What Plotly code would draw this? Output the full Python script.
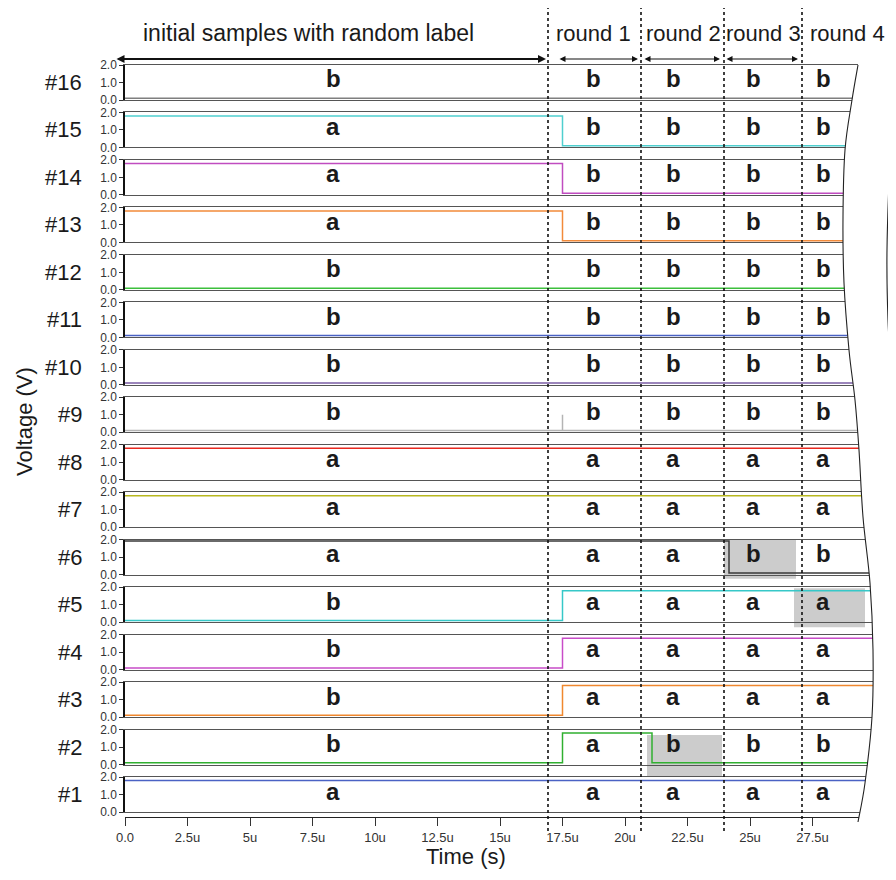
import plotly.graph_objects as go

W, H = 896, 880
OFF = 8                      # default page body margin of the html page
FW, FH = W - 2 * OFF, H - 2 * OFF
FONT = "Liberation Sans"

# ---------------- data ----------------
channels = list(range(1, 17))            # #1 (bottom) .. #16 (top)
HIGH, LOW = 1.8, 0.1
ch_colors = {
    16: "#7f7f7f", 15: "#4fcfcf", 14: "#c04cc0", 13: "#f28a3a",
    12: "#3cbf3c", 11: "#4a62c4", 10: "#7a5ca4", 9: "#b4b4b4",
    8: "#e8281e", 7: "#b8b81e", 6: "#3a3a3a", 5: "#36c8c8",
    4: "#c84cc8", 3: "#f0882e", 2: "#30b030", 1: "#4a62c4",
}
# step signals (time in microseconds, voltage in V), drawn with 'hv' steps
ch_times = {
    16: [0, 30], 15: [0, 17.5, 30], 14: [0, 17.5, 30], 13: [0, 17.5, 30],
    12: [0, 30], 11: [0, 30], 10: [0, 30], 9: [0, 17.5, 17.5, 30],
    8: [0, 30], 7: [0, 30], 6: [0, 24.16, 30], 5: [0, 17.5, 30],
    4: [0, 17.5, 30], 3: [0, 17.5, 30], 2: [0, 17.5, 21.08, 30], 1: [0, 30],
}
ch_levels = {
    16: [LOW, LOW], 15: [HIGH, LOW, LOW], 14: [HIGH, LOW, LOW], 13: [HIGH, LOW, LOW],
    12: [LOW, LOW], 11: [LOW, LOW], 10: [LOW, LOW], 9: [LOW, 1.0, LOW, LOW],
    8: [HIGH, HIGH], 7: [HIGH, HIGH], 6: [1.92, LOW, LOW], 5: [LOW, HIGH, HIGH],
    4: [LOW, HIGH, HIGH], 3: [LOW, HIGH, HIGH], 2: [LOW, HIGH, LOW, LOW], 1: [HIGH, HIGH],
}
# labels per channel: initial, round 1..4
ch_labels = {
    16: "bbbbb", 15: "abbbb", 14: "abbbb", 13: "abbbb", 12: "bbbbb",
    11: "bbbbb", 10: "bbbbb", 9: "bbbbb", 8: "aaaaa", 7: "aaaaa",
    6: "aaabb", 5: "baaaa", 4: "baaaa", 3: "baaaa", 2: "babbb", 1: "aaaaa",
}
label_x = [8.32, 18.72, 21.92, 25.12, 27.92]
round_bounds = [16.92, 20.64, 23.96, 27.08]
phase_names = ["initial samples with random label", "round 1", "round 2", "round 3", "round 4"]
phase_text_x_px = [308, 593, 683, 763, 847]
phase_font_sizes = [23, 22, 22, 22, 22]
phase_arrows = [(-0.4, 16.84), (17.32, 20.52), (20.72, 23.8), (24.0, 26.92)]
# highlighted (relabelled) cells: channel, t0, t1, v_bottom, v_top
highlights = [(6, 23.96, 26.84, -0.23, 2.0), (5, 26.76, 29.6, -0.29, 1.94),
              (2, 20.88, 23.88, -0.66, 1.69)]
xtick_vals = [0, 2.5, 5, 7.5, 10, 12.5, 15, 17.5, 20, 22.5, 25, 27.5]
xtick_text = ["0.0", "2.5u", "5u", "7.5u", "10u", "12.5u", "15u", "17.5u",
              "20u", "22.5u", "25u", "27.5u"]
ytick_vals = [0, 1, 2]
ytick_text = ["0.0", "1.0", "2.0"]

# torn-edge decoration (pixel points)
edge_px = [(858, 65), (852, 100), (845, 150), (843, 217), (844, 283), (849, 350),
           (855, 400), (859, 450), (863, 517), (870, 583), (873, 650), (872, 717),
           (865, 783), (858, 822)]
edge2_px = [(896, 88), (894, 100), (890, 160), (887, 250), (888, 320), (892, 387)]

# ---------------- layout geometry ----------------
X0_PX, X1_PX = 125, 873
XMAX = (X1_PX - X0_PX) / 25.0
TOP16, PITCH, PH = 65.0, 47.47, 35.0


def px(x):
    return (x - OFF) / FW


def py(y):
    return 1 - (y - OFF) / FH


def panel_px(ch):
    t = TOP16 + (16 - ch) * PITCH
    return t, t + PH


def v2paper(ch, v):
    t, b = panel_px(ch)
    return py(b) + v / 2.0 * (py(t) - py(b))


def smooth_path(pts, start="M"):
    # Catmull-Rom -> cubic bezier through the points
    s = f"{start} {px(pts[0][0])},{py(pts[0][1])}"
    for i in range(len(pts) - 1):
        p0 = pts[i - 1] if i > 0 else pts[i]
        p1, p2 = pts[i], pts[i + 1]
        p3 = pts[i + 2] if i + 2 < len(pts) else pts[i + 1]
        c1 = (p1[0] + (p2[0] - p0[0]) / 6, p1[1] + (p2[1] - p0[1]) / 6)
        c2 = (p2[0] - (p3[0] - p1[0]) / 6, p2[1] - (p3[1] - p1[1]) / 6)
        s += (f" C {px(c1[0])},{py(c1[1])} {px(c2[0])},{py(c2[1])}"
              f" {px(p2[0])},{py(p2[1])}")
    return s


fig = go.Figure()
layout = dict(
    width=FW, height=FH, margin=dict(l=0, r=0, t=0, b=0, autoexpand=False),
    paper_bgcolor="white", plot_bgcolor="white", showlegend=False,
    font=dict(family=FONT, color="#1a1a1a"),
)
xdom = [px(X0_PX), px(X1_PX)]
annotations, shapes = [], []

for ch in channels:
    sfx = "" if ch == 1 else str(ch)
    fig.add_trace(go.Scatter(
        x=ch_times[ch], y=ch_levels[ch], mode="lines",
        line=dict(shape="hv", color=ch_colors[ch], width=1.5),
        xaxis=f"x{sfx}", yaxis=f"y{sfx}", hoverinfo="skip"))
    t, b = panel_px(ch)
    layout[f"xaxis{sfx}"] = dict(
        domain=xdom, range=[0, XMAX], anchor=f"y{sfx}", showline=True, mirror=True,
        linecolor="#555555", linewidth=1.2, ticks="", showticklabels=False,
        showgrid=False, zeroline=False, fixedrange=True)
    layout[f"yaxis{sfx}"] = dict(
        domain=[py(b), py(t)], range=[0, 2], anchor=f"x{sfx}", showline=True,
        linecolor="#111111", linewidth=1.5, ticks="outside", ticklen=4, tickwidth=1,
        tickcolor="#333333", tickvals=ytick_vals, ticktext=ytick_text,
        tickfont=dict(size=12, color="#333333", family=FONT),
        showgrid=False, zeroline=False, fixedrange=True)
    annotations.append(dict(
        x=px(84), y=(py(t) + py(b)) / 2, xref="paper", yref="paper",
        text=f"#{ch}", showarrow=False, xanchor="right", yanchor="middle",
        font=dict(size=22, color="#1a1a1a", family=FONT)))
    for lx, lab in zip(label_x, ch_labels[ch]):
        annotations.append(dict(
            x=lx, y=1.2, xref=f"x{sfx}", yref=f"y{sfx}", text=f"<b>{lab}</b>",
            showarrow=False, xanchor="center", yanchor="middle",
            font=dict(size=24, color="#1a1a1a", family=FONT)))

# bottom time axis (slightly below panel #1)
fig.add_trace(go.Scatter(x=[0], y=[None], xaxis="x17", yaxis="y", hoverinfo="skip"))
layout["xaxis17"] = dict(
    domain=xdom, range=[0, XMAX], overlaying="x", anchor="free", position=py(817),
    side="bottom", showline=True, linecolor="#222222", linewidth=1.2,
    ticks="outside", ticklen=8, tickwidth=1, tickcolor="#333333",
    tickvals=xtick_vals, ticktext=xtick_text,
    tickfont=dict(size=13, color="#333333", family=FONT),
    showgrid=False, zeroline=False, fixedrange=True)

# highlighted cells
for ch, t0, t1, v0, v1 in highlights:
    sfx = "" if ch == 1 else str(ch)
    shapes.append(dict(type="rect", xref=f"x{sfx}", yref="paper", x0=t0, x1=t1,
                       y0=v2paper(ch, v0), y1=v2paper(ch, v1), fillcolor="#cccccc",
                       line=dict(width=0), layer="below"))

# round boundaries
for rb in round_bounds:
    shapes.append(dict(type="line", xref="x", yref="paper", x0=rb, x1=rb,
                       y0=py(831), y1=py(8), line=dict(color="#111111", width=1.6,
                                                       dash="3px,3px")))

# white mask right of the torn edge, then the edge lines
mask = smooth_path(edge_px) + f" L {px(858)},{py(830)} L {px(W)},{py(830)} L {px(W)},{py(60)} L {px(858)},{py(60)} Z"
shapes.append(dict(type="path", xref="paper", yref="paper", path=mask,
                   fillcolor="white", line=dict(width=0), layer="above"))
shapes.append(dict(type="path", xref="paper", yref="paper", path=smooth_path(edge_px),
                   line=dict(color="#222222", width=1.1), layer="above"))
shapes.append(dict(type="path", xref="paper", yref="paper", path=smooth_path(edge2_px),
                   line=dict(color="#222222", width=1.1), layer="above"))

# phase titles and arrows
for name, xp, fs in zip(phase_names, phase_text_x_px, phase_font_sizes):
    annotations.append(dict(x=px(xp), y=py(33), xref="paper", yref="paper", text=name,
                            showarrow=False, xanchor="center", yanchor="middle",
                            font=dict(size=fs, color="#1a1a1a", family=FONT)))
for i, (a0, a1) in enumerate(phase_arrows):
    annotations.append(dict(
        x=a1, y=py(59), xref="x16", yref="paper", ax=a0, ay=0,
        axref="x16", ayref="pixel", text="", showarrow=True, arrowside="end+start",
        arrowhead=2, arrowsize=1.0 if i else 0.8, arrowwidth=2 if i == 0 else 1.2,
        arrowcolor="#111111", standoff=0, startstandoff=0))

# axis titles
annotations.append(dict(x=px(466), y=py(871), xref="paper", yref="paper", text="Time (s)",
                        showarrow=False, xanchor="center", yanchor="bottom",
                        font=dict(size=22, color="#1a1a1a", family=FONT)))
annotations.append(dict(x=px(24), y=py(422), xref="paper", yref="paper", text="Voltage (V)",
                        showarrow=False, textangle=-90, xanchor="center", yanchor="middle",
                        font=dict(size=22, color="#1a1a1a", family=FONT)))

layout["annotations"] = annotations
layout["shapes"] = shapes
fig.update_layout(**layout)
fig.write_html("out.html")
